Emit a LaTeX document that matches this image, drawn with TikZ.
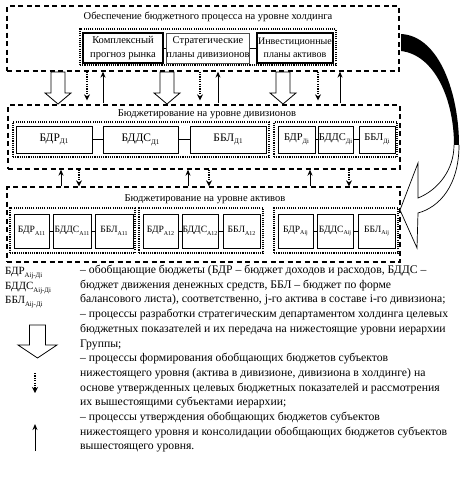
\documentclass[tikz,border=0pt]{standalone}
\usepackage{fontspec}
\setmainfont{Liberation Serif}
\usetikzlibrary{arrows.meta,calc}
\newcommand\sbs[1]{\raisebox{-0.55ex}{\scalebox{0.62}{#1}}}
\newcommand\hollowdn[5]{% x, ytop, ybottom, shaft half width, head half width
  \draw[line width=0.8pt, fill=white] (#1-#4,#2) -- (#1+#4,#2) -- (#1+#4,#3-11) -- (#1+#5,#3-11) -- (#1,#3) -- (#1-#5,#3-11) -- (#1-#4,#3-11) -- cycle;}
\begin{document}
\begin{tikzpicture}[x=1pt,y=-1pt,
  level/.style={draw, line width=1.3pt, dash pattern=on 5pt off 3.5pt, inner sep=0},
  grp/.style={draw, line width=1.1pt, dash pattern=on 1.1pt off 1.1pt, inner sep=0},
  bx/.style={draw, line width=0.8pt, inner sep=0, align=center},
  ttl/.style={font=\fontsize{10.5}{12}\selectfont, inner sep=0},
  topfont/.style={font=\fontsize{10.5}{13.5}\selectfont},
  midfont/.style={font=\fontsize{11.5}{13}\selectfont},
  smfont/.style={font=\fontsize{10.5}{12}\selectfont},
  lowfont/.style={font=\fontsize{9.6}{12}\selectfont},
  lnk/.style={line width=0.8pt},
  dnarr/.style={line width=1.1pt, dash pattern=on 1.2pt off 1.2pt, -{Stealth[length=6pt,width=6pt]}},
  uparr/.style={line width=1pt, -{Stealth[length=6pt,width=5pt]}},
]
\useasboundingbox (0,0) rectangle (461,482);

% ---------- top level ----------
\node[level, minimum width=392, minimum height=65] (top) at (203,38.5) {};
\node[ttl] (toptitle) at (208,17) {Обеспечение бюджетного процесса на уровне холдинга};
\node[grp, minimum width=256, minimum height=36] (topgrp) at (208,47) {};
\node[bx, topfont, line width=1.6pt, minimum width=80, minimum height=30] (k1) at (123,48) {Комплексный\\прогноз рынка};
\node[bx, topfont, line width=0.6pt, draw=black!70, minimum width=80, minimum height=30] (k2) at (208,48) {Стратегические\\планы дивизионов};
\node[bx, font=\fontsize{10}{13.5}\selectfont, line width=1.2pt, minimum width=76, minimum height=30] (k3) at (295,48) {Инвестиционные\\планы активов};
\draw[lnk] (k1) -- (k2);
\draw[lnk] (k2) -- (k3);

% ---------- middle level ----------
\node[level, minimum width=392, minimum height=64] (mid) at (204,137) {};
\node[ttl] (midtitle) at (207,114) {Бюджетирование на уровне дивизионов};
\node[grp, minimum width=256, minimum height=35] (dg1) at (141,139.5) {};
\node[bx, midfont, minimum width=76, minimum height=27] (d1a) at (54,139.5) {БДР\sbs{Д1}};
\node[bx, midfont, minimum width=75, minimum height=27] (d1b) at (140.5,139.5) {БДДС\sbs{Д1}};
\node[bx, midfont, minimum width=76, minimum height=27] (d1c) at (228,139.5) {ББЛ\sbs{Д1}};
\draw[lnk] (d1a) -- (d1b);
\draw[lnk] (d1b) -- (d1c);
\node[grp, minimum width=123, minimum height=35] (dg2) at (335.5,139.5) {};
\node[bx, smfont, minimum width=37, minimum height=27] (dia) at (296.5,139.5) {БДР\sbs{Дi}};
\node[bx, smfont, minimum width=35, minimum height=27] (dib) at (335.5,139.5) {БДДС\sbs{Дi}};
\node[bx, smfont, minimum width=36, minimum height=27] (dic) at (377,139.5) {ББЛ\sbs{Дi}};
\draw[lnk] (dia) -- (dib);
\draw[lnk] (dib) -- (dic);

% ---------- bottom level ----------
\node[level, minimum width=393, minimum height=75] (low) at (203.5,224.5) {};
\node[ttl] (lowtitle) at (205,199) {Бюджетирование на уровне активов};
\node[grp, minimum width=125, minimum height=45] (ag1) at (72.5,230.5) {};
\node[grp, minimum width=124, minimum height=45] (ag2) at (201,230.5) {};
\node[grp, minimum width=124, minimum height=45] (ag3) at (336,230.5) {};
\node[bx, lowfont, minimum width=35, minimum height=34] (a1a) at (31.5,231) {БДР\sbs{A11}};
\node[bx, lowfont, minimum width=38, minimum height=34] (a1b) at (72,231) {БДДС\sbs{A11}};
\node[bx, lowfont, minimum width=38, minimum height=34] (a1c) at (114,231) {ББЛ\sbs{A11}};
\node[bx, lowfont, minimum width=35, minimum height=34] (a2a) at (160.5,231) {БДР\sbs{A12}};
\node[bx, lowfont, minimum width=36, minimum height=34] (a2b) at (200,231) {БДДС\sbs{A12}};
\node[bx, lowfont, minimum width=37, minimum height=34] (a2c) at (241.5,231) {ББЛ\sbs{A12}};
\node[bx, lowfont, minimum width=35, minimum height=34] (a3a) at (295.5,231) {БДР\sbs{Aij}};
\node[bx, lowfont, minimum width=36, minimum height=34] (a3b) at (335,231) {БДДС\sbs{Aij}};
\node[bx, lowfont, minimum width=37, minimum height=34] (a3c) at (376.5,231) {ББЛ\sbs{Aij}};
\foreach \g in {1,2,3}{
  \draw[lnk] (a\g a) -- (a\g b);
  \draw[lnk] (a\g b) -- (a\g c);
}

% ---------- arrows top -> middle ----------
\foreach \x in {58,167,283}{\hollowdn{\x}{72}{104}{7}{13}}
\foreach \x in {87,200,318}{\draw[dnarr] (top.south -| \x,0) -- ([yshift=4pt]mid.north -| \x,0);}
\foreach \x in {103,218,340}{\draw[uparr] ([yshift=1pt]mid.north -| \x,0) -- (top.south -| \x,0);}

% ---------- arrows middle <-> bottom ----------
\foreach \x in {61,188,310}{\draw[uparr] (low.north -| \x,0) -- (mid.south -| \x,0);}
\foreach \x in {79,209,349}{\draw[dnarr] (mid.south -| \x,0) -- (low.north -| \x,0);}

% ---------- big curved arrow ----------
\fill[black] (401,34) .. controls (440,36) and (459,95) .. (459,145)
  -- (454,145) .. controls (454,100) and (435,55) .. (401,51) -- cycle;
\draw[line width=0.7pt, fill=white] (459,145) .. controls (459,185) and (440,207) .. (418,213)
  -- (417,248) -- (400,210) -- (418,163) -- (418,198)
  .. controls (438,190) and (454,170) .. (454,145);

% ---------- legend ----------
\node[anchor=west, inner sep=0, font=\fontsize{11}{13}\selectfont] (lg1) at (5,273) {БДР\sbs{Aij-Дi}};
\node[anchor=west, inner sep=0, font=\fontsize{11}{13}\selectfont] (lg2) at (5,288) {БДДС\sbs{Aij-Дi}};
\node[anchor=west, inner sep=0, font=\fontsize{11}{13}\selectfont] (lg3) at (5,302.5) {ББЛ\sbs{Aij-Дi}};
\draw[line width=0.8pt, fill=white] (29.5,325) -- (45.5,325) -- (45.5,345) -- (57,345) -- (37.5,358) -- (18,345) -- (29.5,345) -- cycle;
\coordinate (dl1) at (35,373);
\coordinate (dl2) at (35,393);
\draw[dnarr] (dl1) -- (dl2);
\coordinate (ul1) at (35,451);
\coordinate (ul2) at (35,424);
\draw[uparr] (ul1) -- (ul2);
\node[anchor=north west, inner sep=0, align=left, font=\fontsize{11.7}{14.7}\selectfont] (legtext) at (80,265) {%
– обобщающие бюджеты (БДР – бюджет доходов и расходов, БДДС –\\
бюджет движения денежных средств, ББЛ – бюджет по форме\\
балансового листа), соответственно, j-го актива в составе i-го дивизиона;\\
– процессы разработки стратегическим департаментом холдинга целевых\\
бюджетных показателей и их передача на нижестоящие уровни иерархии\\
Группы;\\
– процессы формирования обобщающих бюджетов субъектов\\
нижестоящего уровня (актива в дивизионе, дивизиона в холдинге) на\\
основе утвержденных целевых бюджетных показателей и рассмотрения\\
их вышестоящими субъектами иерархии;\\
– процессы утверждения обобщающих бюджетов субъектов\\
нижестоящего уровня и консолидации обобщающих бюджетов субъектов\\
вышестоящего уровня.};
\end{tikzpicture}
\end{document}
